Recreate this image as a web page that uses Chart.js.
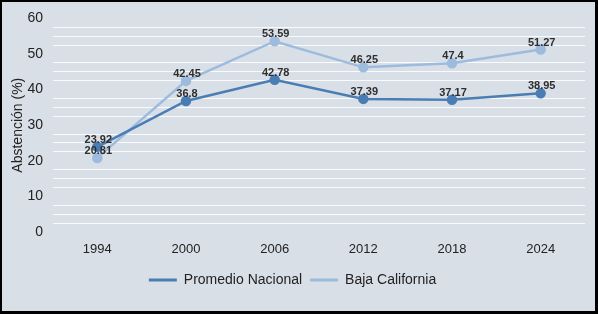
<!DOCTYPE html>
<html>
<head>
<meta charset="utf-8">
<script src="https://cdn.jsdelivr.net/npm/chart.js@4"></script>
<style>
  html, body { margin: 0; padding: 0; }
  body { width: 598px; height: 314px; overflow: hidden; }
  #wrap { position: relative; width: 598px; height: 314px; background: #d9dfe7; }
  #c { position: absolute; left: 0; top: 0; }
  #frame { position: absolute; left: 0; top: 0; width: 598px; height: 314px; box-sizing: border-box;
           border-style: solid; border-color: #000; border-width: 2px 3px 3px 2px; pointer-events: none; }
</style>
</head>
<body>
<div id="wrap">
  <canvas id="c" width="598" height="314"></canvas>
  <div id="frame"></div>
</div>
<script>
const years = ['1994', '2000', '2006', '2012', '2018', '2024'];
const promedioNacional = [23.92, 36.8, 42.78, 37.39, 37.17, 38.95];
const bajaCalifornia = [20.81, 42.45, 53.59, 46.25, 47.4, 51.27];
const seriesNames = ['Promedio Nacional', 'Baja California'];
const yTitle = 'Abstención (%)';

const darkBlue = '#4a7db3';
const lightBlue = '#9dbbdd';

const valueLabels = {
  id: 'valueLabels',
  afterDatasetsDraw(chart) {
    const ctx = chart.ctx;
    ctx.save();
    ctx.font = 'bold 11px "Liberation Sans", Arial, sans-serif';
    ctx.fillStyle = '#2e2e2e';
    ctx.textAlign = 'center';
    ctx.textBaseline = 'middle';
    chart.data.datasets.forEach((ds, i) => {
      const meta = chart.getDatasetMeta(i);
      meta.data.forEach((pt, j) => {
        ctx.fillText(String(ds.data[j]), pt.x + 1, pt.y - 7);
      });
    });
    ctx.restore();
  }
};

new Chart(document.getElementById('c'), {
  type: 'line',
  data: {
    labels: years,
    datasets: [
      {
        label: seriesNames[0],
        data: promedioNacional,
        borderColor: darkBlue,
        backgroundColor: darkBlue,
        pointBackgroundColor: darkBlue,
        pointBorderColor: darkBlue,
        borderWidth: 2.5,
        pointRadius: 4,
        tension: 0
      },
      {
        label: seriesNames[1],
        data: bajaCalifornia,
        borderColor: lightBlue,
        backgroundColor: lightBlue,
        pointBackgroundColor: lightBlue,
        pointBorderColor: lightBlue,
        borderWidth: 2.5,
        pointRadius: 4,
        tension: 0
      }
    ]
  },
  options: {
    responsive: false,
    animation: false,
    devicePixelRatio: 1,
    layout: { padding: { left: 0, right: 13, top: 17, bottom: 17 } },
    plugins: {
      tooltip: { enabled: false },
      legend: {
        position: 'bottom',
        labels: {
          boxWidth: 28,
          boxHeight: 3,
          padding: 8,
          color: '#222222',
          font: { family: '"Liberation Sans", Arial, sans-serif', size: 14 },
          generateLabels(chart) {
            return chart.data.datasets.map((ds, i) => ({
              text: ds.label,
              fillStyle: ds.borderColor,
              strokeStyle: ds.borderColor,
              lineWidth: 0,
              fontColor: '#222222',
              hidden: false,
              datasetIndex: i
            }));
          }
        }
      }
    },
    scales: {
      x: {
        offset: true,
        grid: { display: false, drawTicks: false },
        border: { display: false },
        ticks: {
          color: '#222222',
          padding: 10,
          font: { family: '"Liberation Sans", Arial, sans-serif', size: 13 }
        },
        afterFit(scale) { scale.height = 33; }
      },
      y: {
        min: 0,
        max: 60,
        grid: {
          drawTicks: false,
          lineWidth: 1,
          color(ctx) {
            const v = ctx.tick ? ctx.tick.value : 0;
            if (v % 10 === 0) return 'rgba(0,0,0,0)';
            return 'rgba(255,255,255,0.85)';
          }
        },
        border: { display: false },
        ticks: {
          stepSize: 2.5,
          autoSkip: false,
          color: '#222222',
          padding: 10,
          font: { family: '"Liberation Sans", Arial, sans-serif', size: 14 },
          callback(v) { return v % 10 === 0 ? String(v) : ''; }
        },
        title: {
          display: true,
          text: yTitle,
          color: '#222222',
          padding: { top: 10, bottom: 0 },
          font: { family: '"Liberation Sans", Arial, sans-serif', size: 14 }
        },
        afterFit(scale) { scale.width = 53; }
      }
    }
  },
  plugins: [valueLabels]
});
</script>
</body>
</html>
